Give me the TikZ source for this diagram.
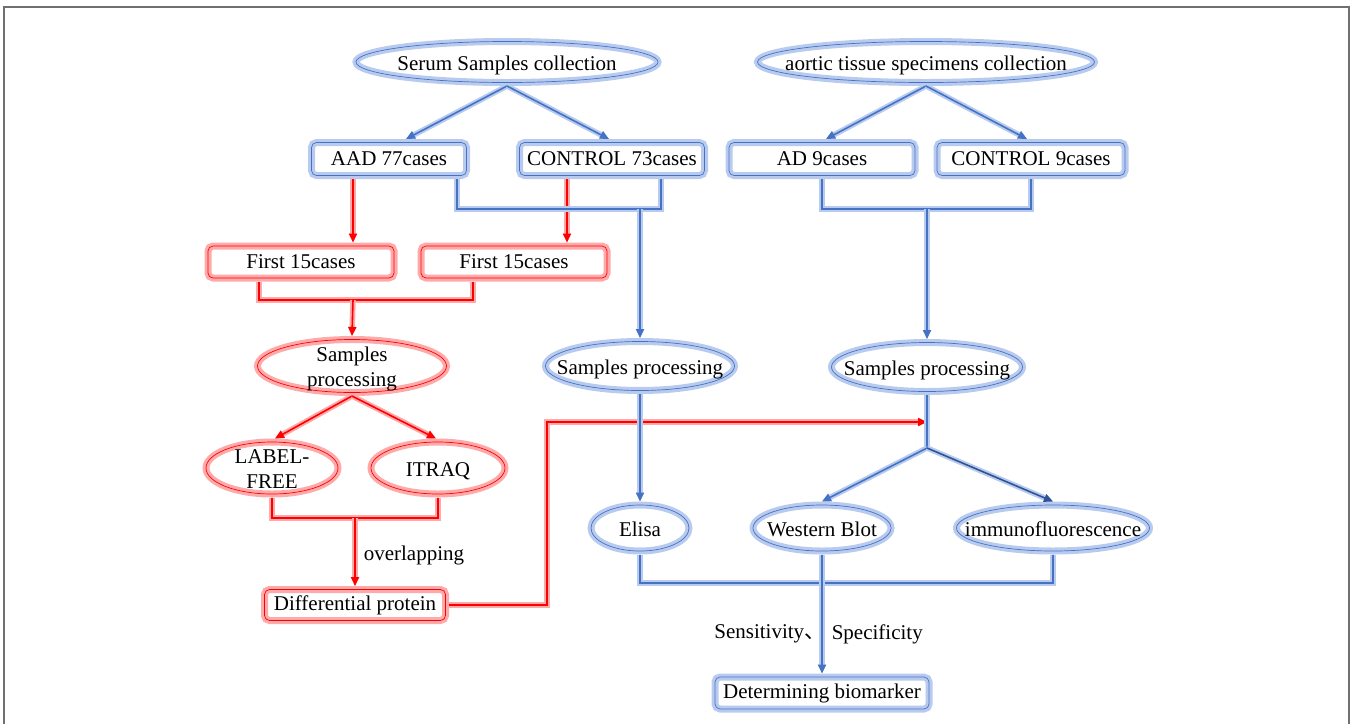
\documentclass[tikz,border=0pt]{standalone}
\usepackage{fontspec}
\setmainfont{Liberation Serif}
\newfontfamily\cjk{Noto Sans CJK SC}
\usetikzlibrary{shapes.geometric,arrows.meta}
\definecolor{bline}{RGB}{68,114,196}
\definecolor{bglow}{RGB}{184,203,238}
\definecolor{bdark}{RGB}{47,84,150}
\definecolor{rline}{RGB}{255,0,0}
\definecolor{rglow}{RGB}{255,170,170}
\definecolor{framec}{RGB}{112,112,112}
\newcommand\ctrtxt[1]{\makebox[0pt]{\raisebox{-3pt}[\height][\depth]{\begin{tabular}{@{}c@{}}#1\end{tabular}}}}
\begin{document}
\begin{tikzpicture}[x=1pt,y=-1pt,
  every node/.style={font=\fontsize{21}{25}\selectfont, text=black},
  bshape/.style={draw=bglow, line width=7pt, fill=white, postaction={draw=bline, line width=0.7pt}},
  rshape/.style={draw=rglow, line width=7pt, fill=white, postaction={draw=rline, line width=0.7pt}},
  bbox/.style={bshape, rectangle, rounded corners=5pt, inner sep=0pt},
  rbox/.style={rshape, rectangle, rounded corners=5pt, inner sep=0pt},
  bell/.style={bshape, ellipse, inner sep=0pt},
  rell/.style={rshape, ellipse, inner sep=0pt},
  bl/.style={draw=bline, line width=1.6pt, preaction={draw=bglow, line width=5.5pt}},
  rl/.style={draw=rline, line width=1.6pt, preaction={draw=rglow, line width=5.5pt}},
  tip/.style={-{Triangle[length=9pt,width=8pt]}}
]
\useasboundingbox (0,0) rectangle (1352,724);
\draw[framec, line width=2pt] (4,724) -- (4,7) -- (1349,7) -- (1349,724);

% top ellipses
\node[bell, minimum width=302pt, minimum height=41pt] (ser) at (507,62) {\ctrtxt{Serum Samples collection}};
\node[bell, minimum width=337pt, minimum height=41pt] (aor) at (926,62) {\ctrtxt{aortic tissue specimens collection}};

% second row boxes
\node[bbox, minimum width=155pt, minimum height=33pt] (aad) at (389,159) {AAD 77cases};
\node[bbox, minimum width=185pt, minimum height=33pt] (c73) at (612,159) {CONTROL 73cases};
\node[bbox, minimum width=186pt, minimum height=33pt] (ad9) at (822,159) {AD 9cases};
\node[bbox, minimum width=188pt, minimum height=33pt] (c9) at (1031,159) {CONTROL 9cases};

% red boxes
\node[rbox, minimum width=186pt, minimum height=32pt] (f1) at (301,262) {First 15cases};
\node[rbox, minimum width=186pt, minimum height=32pt] (f2) at (514,262) {First 15cases};

% samples processing
\node[rell, minimum width=189pt, minimum height=53pt, inner ysep=-7pt] (sp1) at (352,366) {\ctrtxt{Samples\\processing}};
\node[bell, minimum width=189pt, minimum height=49pt] (sp2) at (640,366) {\ctrtxt{Samples processing}};
\node[bell, minimum width=191pt, minimum height=49pt] (sp3) at (927,367) {\ctrtxt{Samples processing}};

% label-free / itraq
\node[rell, minimum width=132pt, minimum height=52pt, inner ysep=-7pt] (lf) at (272,468) {\ctrtxt{LABEL-\\FREE}};
\node[rell, minimum width=134pt, minimum height=52pt] (it) at (438,468) {\ctrtxt{ITRAQ}};

% methods
\node[bell, minimum width=98pt, minimum height=46pt] (el) at (640,528) {\ctrtxt{Elisa}};
\node[bell, minimum width=138pt, minimum height=46pt] (wb) at (822,528) {\ctrtxt{Western Blot}};
\node[bell, minimum width=193pt, minimum height=46pt] (im) at (1053,528) {\ctrtxt{immunofluorescence}};

% bottom boxes
\node[rbox, minimum width=181pt, minimum height=31pt] (dp) at (355,605) {Differential protein};
\node[bbox, minimum width=214pt, minimum height=32pt] (dbm) at (822,693) {Determining biomarker};

% junction coordinates
\coordinate (j1) at (640,209);
\coordinate (j2) at (927,209);
\coordinate (j3) at (353,300);
\coordinate (j4) at (355,518);
\coordinate (c1) at (547,422);
\coordinate (j6) at (927,422);
\coordinate (j5) at (927,448);
\coordinate (j7) at (822,583);

% top arrows
\draw[bl, tip] (ser.south) -- ([xshift=17pt]aad.north);
\draw[bl, tip] (ser.south) -- ([xshift=-3pt]c73.north);
\draw[bl, tip] (aor.south) -- ([xshift=4pt]ad9.north);
\draw[bl, tip] (aor.south) -- ([xshift=-4pt]c9.north);

% red arrows to first 15
\draw[rl, tip] ([xshift=-36pt]aad.south) -- ([xshift=52pt]f1.north);
\draw[rl, tip] ([xshift=-45pt]c73.south) -- ([xshift=53pt]f2.north);

% blue brackets
\draw[bl] ([xshift=68pt]aad.south) |- (j1) -| ([xshift=49pt]c73.south);
\draw[bl, tip] (j1) -- (sp2.north);
\draw[bl] (ad9.south) |- (j2) -| (c9.south);
\draw[bl, tip] (j2) -- (sp3.north);

% red brackets
\draw[rl] ([xshift=-42pt]f1.south) |- (j3) -| ([xshift=-41pt]f2.south);
\draw[rl, tip] (j3) -- (sp1.north);
\draw[rl, tip] (sp1.south) -- ([xshift=3pt]lf.north);
\draw[rl, tip] (sp1.south) -- ([xshift=-2pt]it.north);
\draw[rl] (lf.south) |- (j4) -| (it.south);
\draw[rl, tip] (j4) -- node[pos=0.55, right, inner sep=8pt] {overlapping} (dp.north);

% red line to western/immuno branch
\draw[rl, tip] (dp.east) -| (c1) -- (j6);

% blue lower
\draw[bl, tip] (sp2.south) -- (el.north);
\draw[bl] (sp3.south) -- (j5);
\draw[bl, tip] (j5) -- (wb.north);
\draw[bl, draw=bdark, tip] (j5) -- (im.north);
\draw[bl] (el.south) |- (j7) -| (im.south);
\draw[bl, tip] (wb.south) -- node[pos=0.67, left, inner sep=4pt, xshift=8pt] {Sensitivity{\cjk 、}}
  node[pos=0.67, right, inner sep=9pt] {Specificity} (dbm.north);
\end{tikzpicture}
\end{document}
